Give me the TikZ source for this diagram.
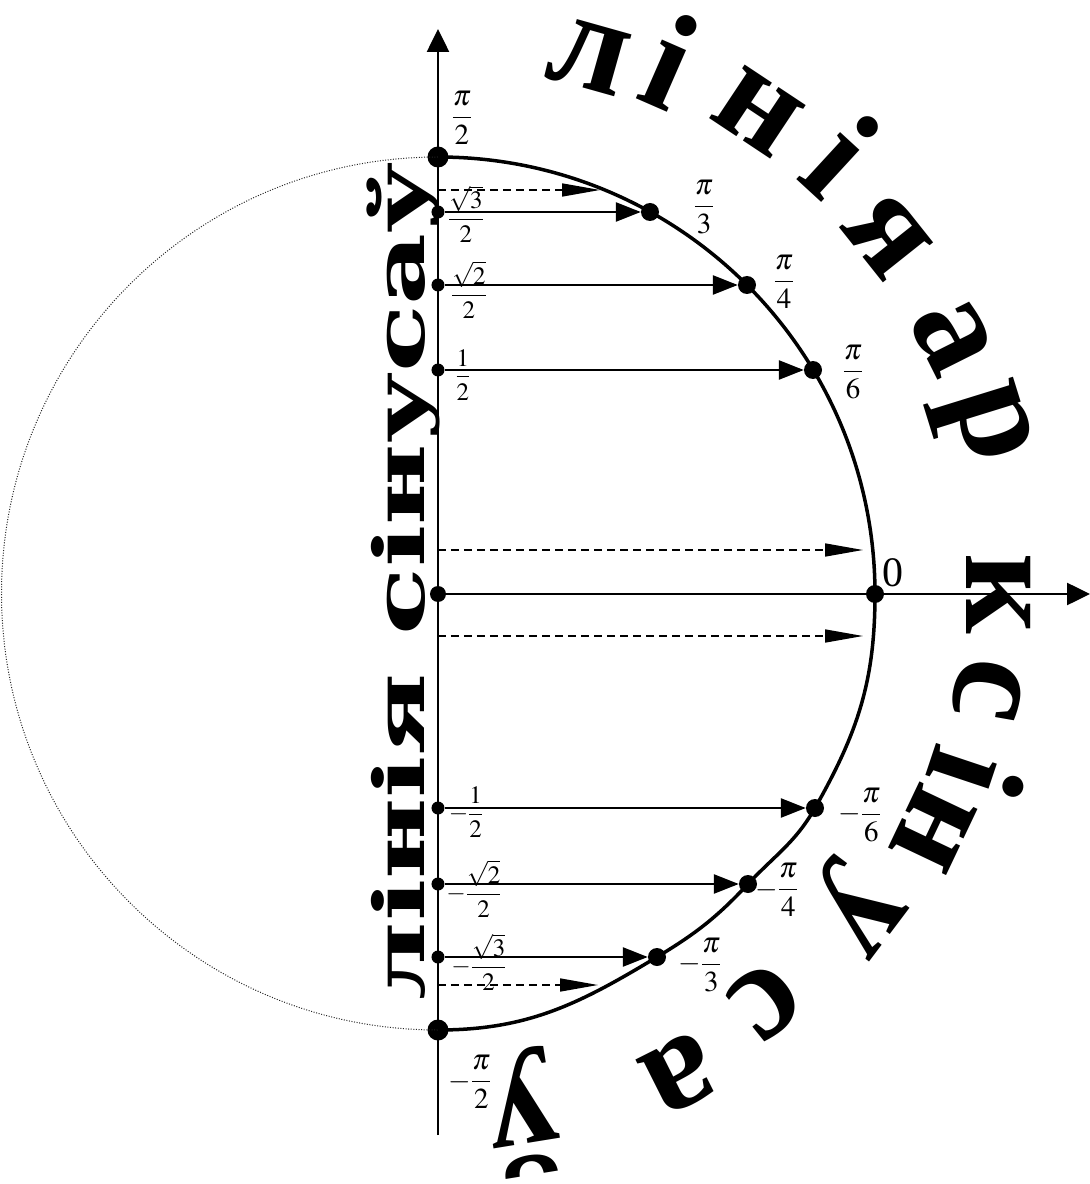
\documentclass[tikz,border=0pt]{standalone}
\usepackage{mathptmx}
\usepackage{graphicx}
\usepackage[no-math]{fontspec}
\setmainfont{Liberation Serif}
\newfontfamily\vfont{DejaVu Serif}
\newfontfamily\afont{Liberation Serif}
\usetikzlibrary{arrows.meta}
\begin{document}
\begin{tikzpicture}[x=1pt,y=1pt,
  axisline/.style={line width=2.6pt,-{Triangle[length=23pt,width=22pt]}},
  arcline/.style={line width=3.5pt},
  dotcirc/.style={line width=1pt,dash pattern=on 1pt off 1.6pt,black!85},
  sarrow/.style={line width=2.6pt,-{Triangle[length=25pt,width=19pt]}},
  darrow/.style={line width=1.6pt,dash pattern=on 8pt off 5pt,-{Triangle[length=38pt,width=13pt]}},
  hdot/.style={circle,fill,inner sep=0pt,minimum size=21pt},
  pdot/.style={circle,fill,inner sep=0pt,minimum size=18pt},
  sdot/.style={circle,fill,inner sep=0pt,minimum size=13pt},
  odot/.style={circle,fill,inner sep=0pt,minimum size=16pt},
  plab/.style={inner sep=0pt,font=\fontsize{29}{32}\selectfont},
  vlab/.style={inner sep=0pt,font=\fontsize{25}{28}\selectfont},
  zlab/.style={inner sep=0pt,font=\fontsize{42}{46}\selectfont},
  arcl/.style={inner sep=0pt,anchor=base,font=\afont\bfseries\fontsize{140}{140}\selectfont},
  vtext/.style={inner sep=0pt,anchor=base,font=\vfont\bfseries\fontsize{70}{70}\selectfont}
]
\useasboundingbox (-438,-590) rectangle (652,594);
% axes
\coordinate (yb) at (0,-541);
\coordinate (yt) at (0,565);
\coordinate (xe) at (652,0);
\draw[axisline] (yb) -- (yt);
% points
\node[hdot] (p90) at (0,437) {};
\node[hdot] (m90) at (0,-436) {};
\node[odot] (o) at (0,0) {};
\node[pdot] (p0) at (437,0) {};
\draw[axisline] (o) -- (xe);
\node[sdot] (a60) at (0,382) {};
\node[sdot] (a45) at (0,309) {};
\node[sdot] (a30) at (0,224) {};
\node[sdot] (b30) at (0,-214) {};
\node[sdot] (b45) at (0,-290) {};
\node[sdot] (b60) at (0,-363) {};
\node[pdot] (p60) at (212,382) {};
\node[pdot] (p45) at (309,309) {};
\node[pdot] (p30) at (375,224) {};
\node[pdot] (m30) at (377,-214) {};
\node[pdot] (m45) at (310,-290) {};
\node[pdot] (m60) at (219,-363) {};
% circle
\draw[dotcirc] (p90.center) arc[start angle=90,end angle=270,radius=436.5];
\draw[arcline] (p90.center) arc[start angle=90,end angle=0,radius=437];
\draw[arcline] (p0.center) to[out=-90,in=60.4] (m30.center)
  to[out=-119.6,in=46.9] (m45.center) to[out=-133.1,in=31.1] (m60.center)
  to[out=-148.9,in=0] (m90.center);
% solid arrows
\draw[sarrow] (a60) -- (p60);
\draw[sarrow] (a45) -- (p45);
\draw[sarrow] (a30) -- (p30);
\draw[sarrow] (b30) -- (m30);
\draw[sarrow] (b45) -- (m45);
\draw[sarrow] (b60) -- (m60);
% dashed arrows
\coordinate (d1s) at (0,404);  \coordinate (d1e) at (162,404);
\coordinate (d2s) at (0,44);   \coordinate (d2e) at (425,44);
\coordinate (d3s) at (0,-42);  \coordinate (d3e) at (425,-42);
\coordinate (d4s) at (0,-391); \coordinate (d4e) at (160,-391);
\draw[darrow] (d1s) -- (d1e);
\draw[darrow] (d2s) -- (d2e);
\draw[darrow] (d3s) -- (d3e);
\draw[darrow] (d4s) -- (d4e);
% labels
\node[plab] (lp90) at (24,476) {$\displaystyle\frac{\pi}{2}$};
\node[vlab] (l60) at (28,380) {$\displaystyle\frac{\sqrt{3}}{2}$};
\node[vlab] (l45) at (31,304) {$\displaystyle\frac{\sqrt{2}}{2}$};
\node[vlab] (l30) at (25,219) {$\displaystyle\frac{1}{2}$};
\node[vlab] (k30) at (28,-218) {$-\displaystyle\frac{1}{2}$};
\node[vlab] (k45) at (36,-295) {$-\displaystyle\frac{\sqrt{2}}{2}$};
\node[vlab] (k60) at (41,-368) {$-\displaystyle\frac{\sqrt{3}}{2}$};
\node[plab] (km90) at (32,-488) {$-\displaystyle\frac{\pi}{2}$};
\node[plab] (q60) at (266,387) {$\displaystyle\frac{\pi}{3}$};
\node[plab] (q45) at (346,312) {$\displaystyle\frac{\pi}{4}$};
\node[plab] (q30) at (415,222) {$\displaystyle\frac{\pi}{6}$};
\node[zlab] (q0) at (455,21) {0};
\node[plab] (r30) at (422,-221) {$-\displaystyle\frac{\pi}{6}$};
\node[plab] (r45) at (339,-296) {$-\displaystyle\frac{\pi}{4}$};
\node[plab] (r60) at (262,-371) {$-\displaystyle\frac{\pi}{3}$};
% vertical text
\node[vtext,rotate=90] (vt) at (-13,13) {\resizebox{838pt}{\height}{лінія сінусаў}};
% arc text
\foreach \ch/\ang/\rad [count=\i] in {л/74.3/527,і/66.4/533,н/56.4/546,і/47.4/548,я/38.5/542,а/26.6/543,р/17.2/550,к/0/528,с/-9.9/526,і/-18.5/520,н/-25.4/516,у/-37/502,с/-51.2/490,а/-63.3/505,ў/-80.8/492}
  \node[arcl,rotate=\ang-90] (arc\i) at (\ang:\rad) {\ch};
\end{tikzpicture}
\end{document}
